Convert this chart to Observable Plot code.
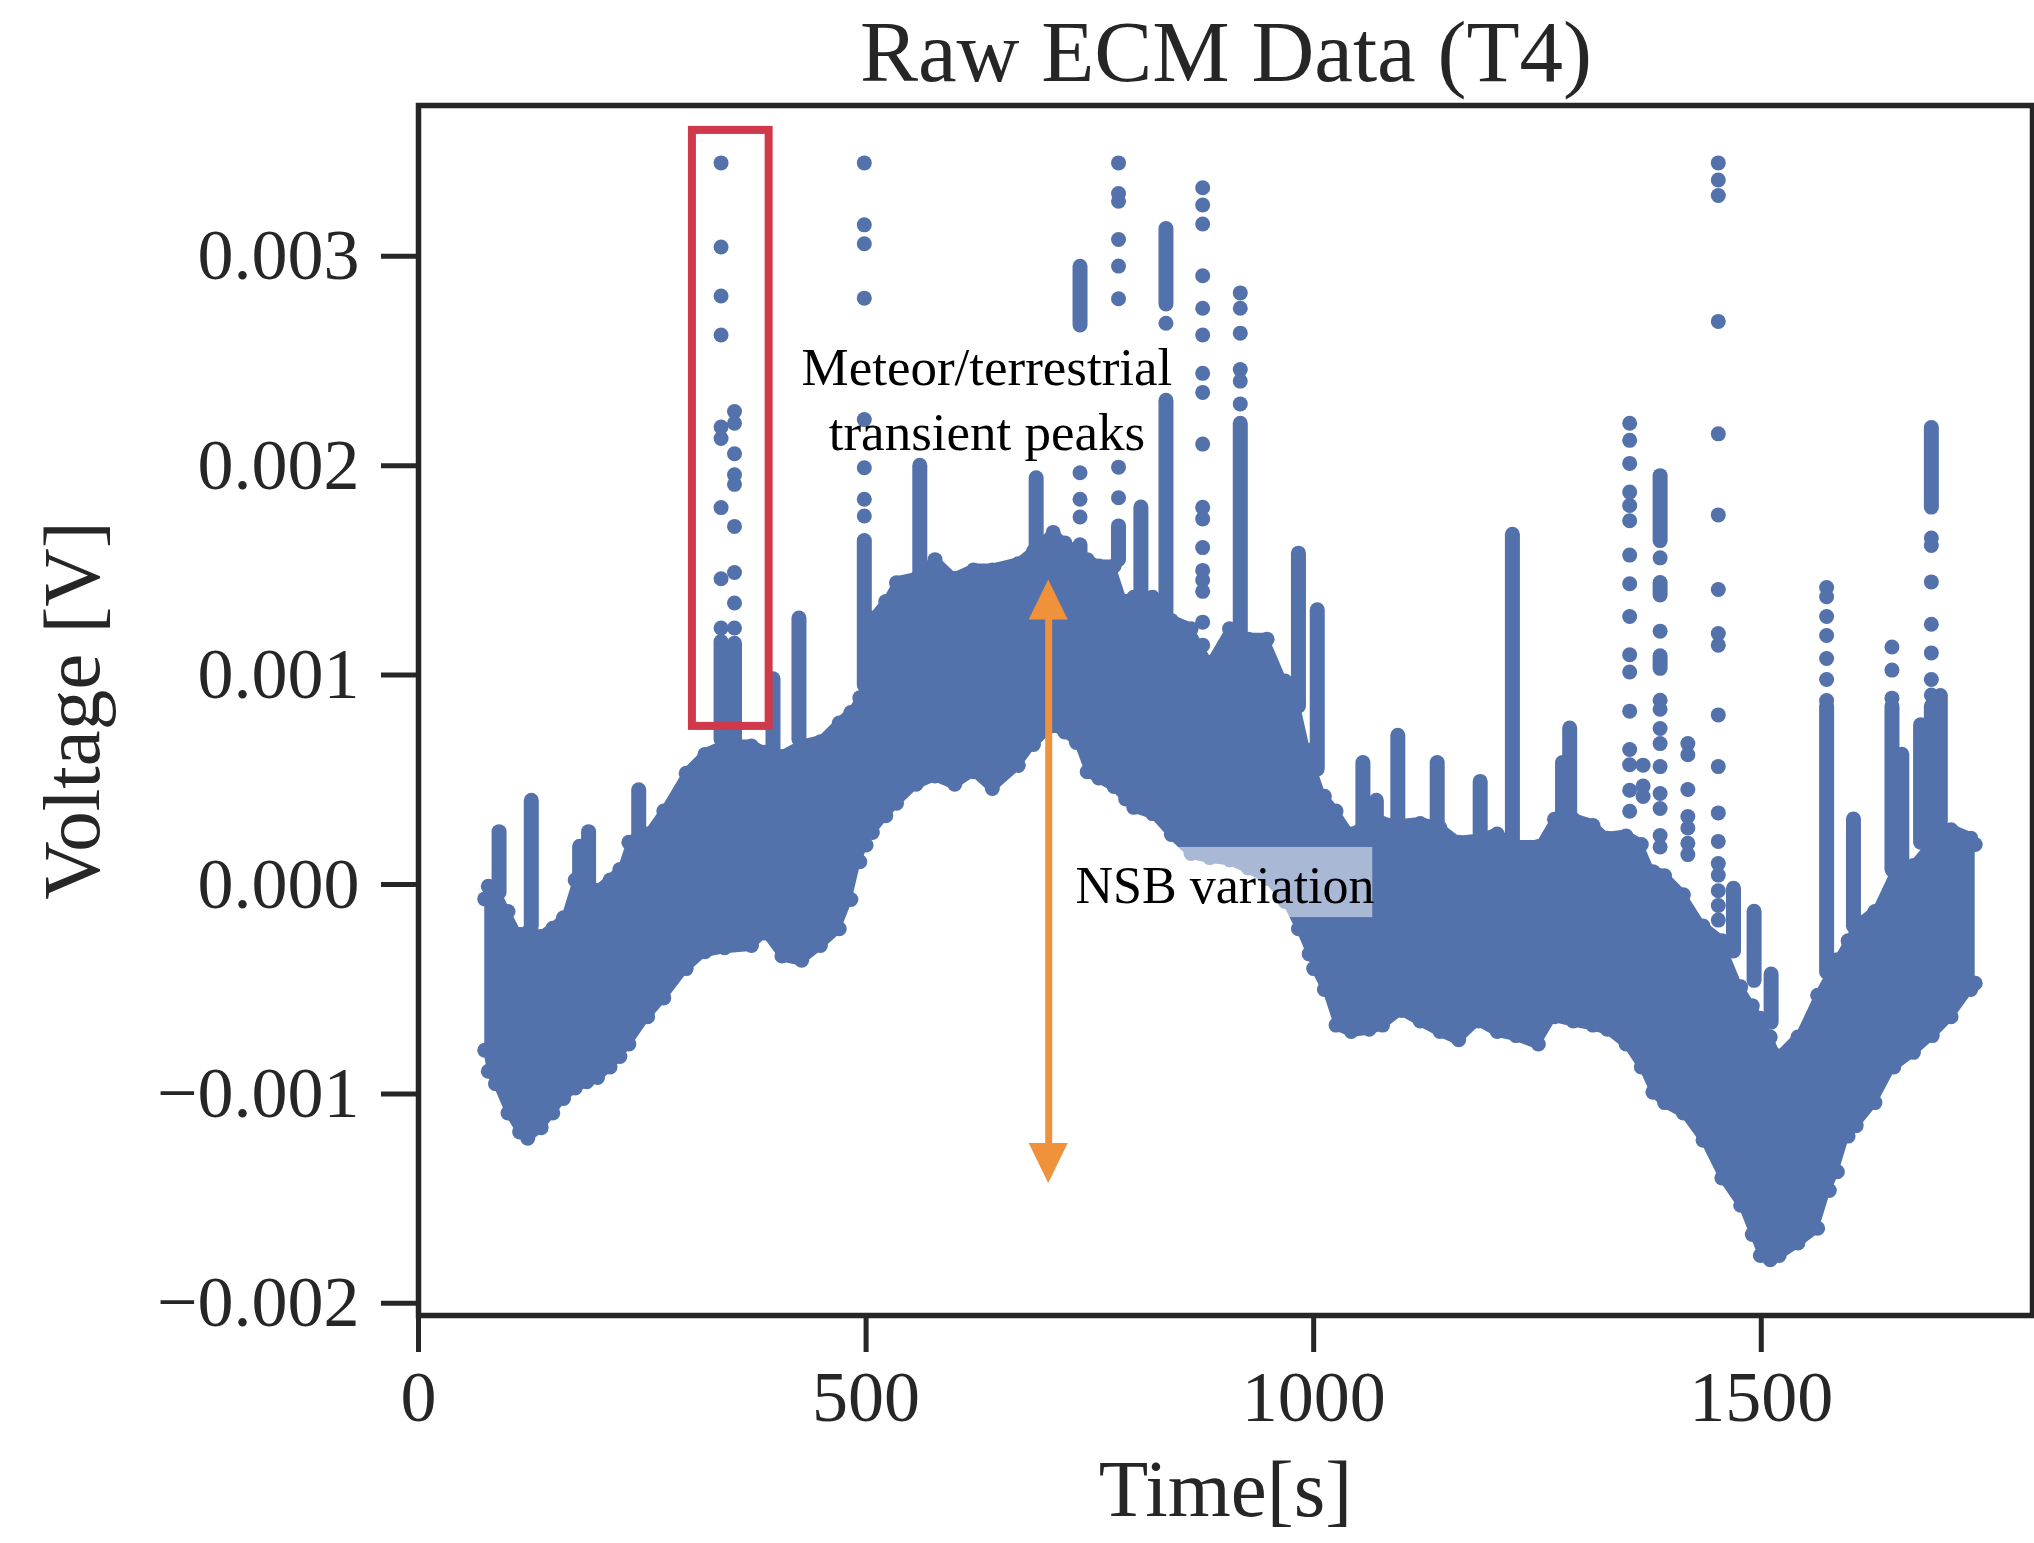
<!DOCTYPE html>
<html>
<head>
<meta charset="utf-8">
<script src="https://cdn.jsdelivr.net/npm/d3@7"></script>
<script src="https://cdn.jsdelivr.net/npm/@observablehq/plot@0.6"></script>
<style>
html, body { margin: 0; padding: 0; background: #fff; overflow: hidden; }
#title { height: 100px; position: relative; font-family: "Liberation Serif", serif; }
#title span { position: absolute; left: 1226px; top: 8px; transform: translateX(-50%);
  font-size: 87px; line-height: 1; color: #262626; white-space: nowrap; }
</style>
</head>
<body>
<div id="title"><span>Raw ECM Data (T4)</span></div>
<div id="chart"></div>
<script>
// ---------- axes ----------
const xDomain = [0, 1803];
const xTicks = [0, 500, 1000, 1500];
const yDomainMilliVolt = [-2.058, 3.72];
const yTicksMilliVolt = [-2, -1, 0, 1, 2, 3];

// ---------- main band of raw samples (envelope, mV) ----------
const bandTime = [74, 78, 86, 100, 113, 122, 137, 150, 162, 175, 188, 200, 214, 225, 235, 256, 274, 299, 320, 342, 372, 387, 406, 428, 449, 470, 483, 493, 500, 507, 522, 534, 556, 577, 599, 620, 641, 670, 687, 709, 722, 735, 747, 760, 777, 790, 799, 820, 841, 863, 884, 906, 927, 948, 968, 983, 995, 1000, 1012, 1025, 1042, 1062, 1077, 1098, 1119, 1141, 1162, 1184, 1205, 1226, 1251, 1269, 1290, 1312, 1328, 1349, 1366, 1379, 1392, 1413, 1435, 1456, 1477, 1490, 1499, 1510, 1520, 1541, 1563, 1576, 1585, 1597, 1606, 1627, 1648, 1670, 1691, 1712, 1734, 1739];
const bandHigh = [-0.04, 0.02, 0.02, -0.10, -0.21, -0.20, -0.22, -0.18, -0.13, 0.05, 0.08, 0.00, 0.05, 0.10, 0.23, 0.27, 0.38, 0.56, 0.65, 0.69, 0.69, 0.66, 0.64, 0.69, 0.71, 0.80, 0.85, 0.92, 1.10, 1.30, 1.38, 1.47, 1.49, 1.58, 1.49, 1.53, 1.53, 1.56, 1.62, 1.71, 1.66, 1.62, 1.58, 1.55, 1.55, 1.38, 1.40, 1.40, 1.29, 1.25, 1.09, 1.25, 1.20, 1.20, 1.00, 0.90, 0.67, 0.60, 0.45, 0.38, 0.27, 0.32, 0.32, 0.31, 0.32, 0.30, 0.23, 0.24, 0.27, 0.21, 0.21, 0.34, 0.34, 0.31, 0.25, 0.26, 0.22, 0.09, 0.07, -0.02, -0.17, -0.24, -0.46, -0.55, -0.61, -0.70, -0.79, -0.70, -0.50, -0.40, -0.33, -0.24, -0.17, -0.10, 0.09, 0.12, 0.23, 0.29, 0.25, 0.22];
const bandLow = [-0.82, -0.92, -0.98, -1.12, -1.21, -1.24, -1.19, -1.12, -1.05, -1.00, -0.97, -0.95, -0.90, -0.85, -0.79, -0.66, -0.57, -0.43, -0.35, -0.33, -0.32, -0.26, -0.37, -0.39, -0.32, -0.24, -0.10, 0.08, 0.16, 0.22, 0.30, 0.36, 0.45, 0.49, 0.45, 0.51, 0.43, 0.54, 0.64, 0.73, 0.70, 0.65, 0.51, 0.48, 0.44, 0.38, 0.34, 0.31, 0.21, 0.12, 0.10, 0.09, 0.05, 0.00, -0.11, -0.24, -0.36, -0.43, -0.53, -0.70, -0.73, -0.72, -0.70, -0.63, -0.68, -0.73, -0.77, -0.68, -0.73, -0.75, -0.79, -0.66, -0.68, -0.70, -0.72, -0.79, -0.90, -1.02, -1.07, -1.12, -1.25, -1.43, -1.56, -1.70, -1.80, -1.82, -1.80, -1.74, -1.67, -1.49, -1.40, -1.23, -1.18, -1.07, -0.90, -0.83, -0.75, -0.66, -0.53, -0.50];

// ---------- dense transient columns (mV) ----------
const columnTime = [90, 126, 180, 190, 246, 338, 353, 396, 425, 498, 560, 690, 739, 739, 782, 807, 835, 835, 918, 983, 1004, 1055, 1070, 1094, 1138, 1186, 1222, 1278, 1286, 1387, 1387, 1387, 1469, 1492, 1511, 1573, 1603, 1646, 1657, 1678, 1690, 1690, 1700];
const columnLow = [-0.04, -0.20, 0.00, 0.00, 0.20, 0.69, 0.69, 0.60, 0.69, 0.95, 1.49, 1.60, 2.67, 1.55, 1.55, 1.40, 2.77, 1.30, 1.20, 0.85, 0.55, 0.25, 0.28, 0.31, 0.30, 0.24, 0.21, 0.34, 0.34, 1.64, 1.38, 1.03, -0.32, -0.46, -0.66, -0.42, -0.20, 0.07, 0.10, 0.20, 1.80, 0.23, 0.28];
const columnHigh = [0.25, 0.40, 0.18, 0.25, 0.45, 1.15, 1.15, 0.98, 1.27, 1.64, 2.00, 1.94, 2.95, 1.62, 1.71, 1.80, 3.13, 2.31, 2.20, 1.58, 1.31, 0.58, 0.40, 0.71, 0.58, 0.49, 1.67, 0.58, 0.745, 1.95, 1.44, 1.09, -0.02, -0.13, -0.43, 0.85, 0.31, 0.85, 0.62, 0.76, 2.18, 0.85, 0.90];

// ---------- isolated transient samples (mV) ----------
const peakTime = [338, 353, 498, 739, 782, 835, 876, 918, 1353, 1368, 1387, 1418, 1452, 1573, 1646, 1690];
const peakValues = [
  [3.446, 3.044, 2.81, 2.624, 2.185, 2.13, 1.80, 1.46, 1.225, 1.16],
  [2.259, 2.203, 2.057, 1.957, 1.911, 1.71, 1.49, 1.344, 1.225],
  [3.446, 3.15, 3.06, 2.80, 2.22, 1.99, 1.84, 1.76],
  [1.966, 1.84, 1.755],
  [3.446, 3.30, 3.263, 3.08, 2.953, 2.797, 1.993, 1.847],
  [2.68],
  [3.327, 3.245, 3.154, 2.907, 2.752, 2.624, 2.441, 2.35, 2.103, 1.801, 1.746, 1.609, 1.50, 1.454, 1.40, 1.253, 1.143],
  [2.825, 2.752, 2.633, 2.459, 2.404, 2.295],
  [2.203, 2.121, 2.011, 1.874, 1.81, 1.737, 1.573, 1.436, 1.28, 1.097, 1.015, 0.828, 0.645, 0.572, 0.45, 0.35],
  [0.57, 0.47, 0.42],
  [1.56, 1.21, 0.88, 0.837, 0.745, 0.673, 0.563, 0.435, 0.363, 0.234, 0.179],
  [0.673, 0.62, 0.454, 0.325, 0.27, 0.197, 0.143],
  [3.446, 3.364, 3.29, 2.689, 2.152, 1.765, 1.409, 1.199, 1.143, 0.81, 0.563, 0.342, 0.206, 0.10, 0.045, -0.03, -0.10, -0.17],
  [1.418, 1.374, 1.28, 1.189, 1.079, 0.979, 0.879],
  [1.134, 1.024, 0.89],
  [1.655, 1.619, 1.445, 1.243, 1.106, 0.979, 0.905]
];

// ---------- annotations (data units: s, mV) ----------
const peakNoteLines = ["Meteor/terrestrial", "transient peaks"];
const peakNoteTime = [635, 635];
const peakNoteMilliVolt = [2.383, 2.077];
const nsbNote = ["NSB variation"];
const nsbNoteTime = [734];
const nsbNoteMilliVolt = [-0.086];
const nsbBoxTime = [846, 1066];
const nsbBoxMilliVolt = [-0.158, 0.177];
const redBoxTime = [306, 391.7];
const redBoxMilliVolt = [0.755, 3.601];
const arrowTime = 704;
const arrowTipsMilliVolt = [1.454, -1.428];
const arrowHeadLengthMilliVolt = 0.191;
const arrowHeadHalfWidthTime = 21.8;

// ---------- build ----------
const mv = v => v / 1000;
const blue = "#5371ab";
const orange = "#f0913c";
const red = "#d0394a";
const ink = "#262626";

const band = bandTime.map((t, i) => ({t, lo: mv(bandLow[i]), hi: mv(bandHigh[i])}));
const columns = columnTime.map((t, i) => ({t, a: mv(columnLow[i]), b: mv(columnHigh[i])}));
const peaks = peakTime.flatMap((t, i) => peakValues[i].map(v => ({t, v: mv(v)})));
const peakNotes = peakNoteLines.map((s, i) => ({s, t: peakNoteTime[i], v: mv(peakNoteMilliVolt[i])}));
const nsbNotes = nsbNote.map((s, i) => ({s, t: nsbNoteTime[i], v: mv(nsbNoteMilliVolt[i])}));
const nsbBox = [{x1: nsbBoxTime[0], x2: nsbBoxTime[1], y1: mv(nsbBoxMilliVolt[0]), y2: mv(nsbBoxMilliVolt[1])}];
const redBox = [{x1: redBoxTime[0], x2: redBoxTime[1], y1: mv(redBoxMilliVolt[0]), y2: mv(redBoxMilliVolt[1])}];
const [tipTop, tipBottom] = arrowTipsMilliVolt;
const headTop = [
  {x: arrowTime - arrowHeadHalfWidthTime, y1: mv(tipTop - arrowHeadLengthMilliVolt), y2: mv(tipTop - arrowHeadLengthMilliVolt)},
  {x: arrowTime, y1: mv(tipTop - arrowHeadLengthMilliVolt), y2: mv(tipTop)},
  {x: arrowTime + arrowHeadHalfWidthTime, y1: mv(tipTop - arrowHeadLengthMilliVolt), y2: mv(tipTop - arrowHeadLengthMilliVolt)}
];
const headBottom = [
  {x: arrowTime - arrowHeadHalfWidthTime, y1: mv(tipBottom + arrowHeadLengthMilliVolt), y2: mv(tipBottom + arrowHeadLengthMilliVolt)},
  {x: arrowTime, y1: mv(tipBottom + arrowHeadLengthMilliVolt), y2: mv(tipBottom)},
  {x: arrowTime + arrowHeadHalfWidthTime, y1: mv(tipBottom + arrowHeadLengthMilliVolt), y2: mv(tipBottom + arrowHeadLengthMilliVolt)}
];
const shaft = [{x: arrowTime, y1: mv(tipTop - arrowHeadLengthMilliVolt * 0.6), y2: mv(tipBottom + arrowHeadLengthMilliVolt * 0.6)}];

const chart = Plot.plot({
  width: 2034,
  height: 1443,
  marginLeft: 418,
  marginRight: 2,
  marginTop: 5,
  marginBottom: 228,
  style: {fontFamily: '"Liberation Serif", serif', background: "white", color: ink, overflow: "visible"},
  x: {domain: xDomain, label: null},
  y: {domain: yDomainMilliVolt.map(mv), label: null},
  marks: [
    Plot.areaY(band, {x: "t", y1: "lo", y2: "hi", fill: blue, curve: "linear"}),
    // samples sitting on the ragged envelope of the band
    Plot.dot(band, {x: "t", y: "hi", r: 7.5, fill: blue, dy: 6}),
    Plot.dot(band, {x: "t", y: "lo", r: 7.5, fill: blue, dy: -6}),
    Plot.ruleX(columns, {x: "t", y1: "a", y2: "b", stroke: blue, strokeWidth: 15, strokeLinecap: "round"}),
    Plot.dot(peaks, {x: "t", y: "v", r: 7.5, fill: blue}),
    Plot.rect(redBox, {x1: "x1", x2: "x2", y1: "y1", y2: "y2", fill: "none", stroke: red, strokeWidth: 8}),
    Plot.rect(nsbBox, {x1: "x1", x2: "x2", y1: "y1", y2: "y2", fill: "white", fillOpacity: 0.5}),
    Plot.text(peakNotes, {x: "t", y: "v", text: "s", textAnchor: "middle", lineAnchor: "bottom", fontSize: 53, fill: "black"}),
    Plot.text(nsbNotes, {x: "t", y: "v", text: "s", textAnchor: "start", lineAnchor: "bottom", fontSize: 52, fill: "black"}),
    Plot.ruleX(shaft, {x: "x", y1: "y1", y2: "y2", stroke: orange, strokeWidth: 7}),
    Plot.areaY(headTop, {x: "x", y1: "y1", y2: "y2", fill: orange, curve: "linear"}),
    Plot.areaY(headBottom, {x: "x", y1: "y1", y2: "y2", fill: orange, curve: "linear"}),
    Plot.frame({stroke: ink, strokeWidth: 5.5}),
    Plot.axisY(yTicksMilliVolt.map(mv), {tickSize: 37, tickPadding: 22, fontSize: 72, strokeWidth: 5, tickFormat: d3.format(".3f"), label: null, stroke: ink, fill: ink}),
    Plot.axisX(xTicks, {tickSize: 37, tickPadding: 17, fontSize: 72, strokeWidth: 5, tickFormat: d3.format("d"), label: null, stroke: ink, fill: ink}),
    Plot.text(["Time[s]"], {frameAnchor: "bottom", textAnchor: "middle", lineAnchor: "bottom", dy: 200, fontSize: 81, fill: ink}),
    Plot.text(["Voltage [V]"], {frameAnchor: "left", textAnchor: "middle", lineAnchor: "middle", rotate: -90, dx: -345, fontSize: 81, fill: ink})
  ]
});
document.getElementById("chart").appendChild(chart);
</script>
</body>
</html>
